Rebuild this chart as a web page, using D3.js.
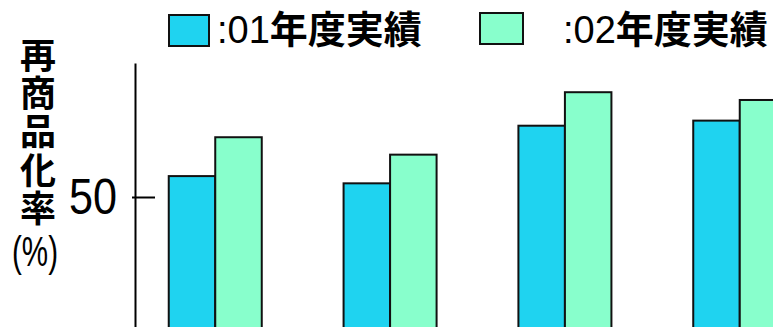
<!DOCTYPE html>
<html>
<head>
<meta charset="utf-8">
<script src="https://cdn.jsdelivr.net/npm/d3@7"></script>
<style>
  body { margin: 0; background: #fff; }
  svg { display: block; }
</style>
</head>
<body>
<div id="chart"></div>
<script>
const WIDTH = 773;
const HEIGHT = 327;

// data (category labels are cropped out of the frame)
const categories = ["区分1", "区分2", "区分3", "区分4"];
const seriesNames = ["01年度実績", "02年度実績"];
const values01 = [57.8, 55.1, 76.6, 78.5];
const values02 = [72.3, 65.8, 89.1, 86.2];
const yTicks = [50];
const yTitle = ["再", "商", "品", "化", "率"];
const yUnit = "(%)";

const COLORS = ["#1fd3f0", "#88ffcc"];

const svg = d3.select("#chart")
  .append("svg")
    .attr("width", WIDTH)
    .attr("height", HEIGHT);

// x scales: groups, then series inside each group
const X_SCALE = d3.scaleBand()
  .domain(categories)
  .range([135, 820])
  .paddingInner(0.468)
  .paddingOuter(0.193);

const X_INNER = d3.scaleBand()
  .domain(seriesNames)
  .range([0, X_SCALE.bandwidth()]);

// y scale: the zero line sits just below the frame
const Y_SCALE = d3.scaleLinear()
  .domain([0, 100])
  .range([331, 63]);

const rows = categories.map((c, i) => ({
  cat: c,
  vals: [values01[i], values02[i]]
}));

const groups = svg.selectAll("g.group")
  .data(rows)
  .enter()
  .append("g")
    .attr("class", "group")
    .attr("transform", (d) => "translate(" + X_SCALE(d.cat) + ",0)");

groups.selectAll("rect")
  .data((d) => d.vals.map((v, j) => ({name: seriesNames[j], v: v, j: j})))
  .enter()
  .append("rect")
    .attr("x", (d) => X_INNER(d.name))
    .attr("y", (d) => Y_SCALE(d.v))
    .attr("width", X_INNER.bandwidth())
    .attr("height", (d) => Y_SCALE(0) - Y_SCALE(d.v))
    .attr("fill", (d) => COLORS[d.j])
    .attr("stroke", "#111")
    .attr("stroke-width", 2);

// y axis, tick crosses the line
const yAxis = svg.append("g")
  .attr("transform", "translate(135,0)")
  .call(d3.axisLeft(Y_SCALE).tickValues(yTicks).tickSize(3).tickPadding(15).tickSizeOuter(0));

yAxis.select(".domain").attr("stroke", "#000").attr("stroke-width", 2);
yAxis.selectAll(".tick line").attr("x1", 20).attr("stroke", "#000").attr("stroke-width", 2);
yAxis.selectAll(".tick text")
  .attr("font-family", "'Liberation Sans', Arial, sans-serif")
  .attr("font-size", 50)
  .attr("textLength", 48)
  .attr("lengthAdjust", "spacingAndGlyphs")
  .attr("fill", "#000");

// y title, stacked vertically
const title = svg.append("g")
  .attr("font-family", "'Noto Sans CJK JP', sans-serif")
  .attr("font-weight", "bold")
  .attr("font-size", 36)
  .attr("text-anchor", "middle")
  .attr("fill", "#000");

title.selectAll("text")
  .data(yTitle)
  .enter()
  .append("text")
    .attr("x", 38)
    .attr("y", (d, i) => 69 + i * 38.2)
    .text((d) => d);

svg.append("text")
  .attr("x", 35)
  .attr("y", 266)
  .attr("font-family", "'Liberation Sans', Arial, sans-serif")
  .attr("font-size", 42)
  .attr("text-anchor", "middle")
  .attr("textLength", 46)
  .attr("lengthAdjust", "spacingAndGlyphs")
  .text(yUnit);

// legend
const legendX = [169, 480];
const legendTextX = [217, 563];

const legend = svg.selectAll("g.legend")
  .data(seriesNames)
  .enter()
  .append("g")
    .attr("class", "legend");

legend.append("rect")
  .attr("x", (d, i) => legendX[i])
  .attr("y", (d, i) => i === 0 ? 15 : 13)
  .attr("width", (d, i) => i === 0 ? 40 : 43)
  .attr("height", 31)
  .attr("fill", (d, i) => COLORS[i])
  .attr("stroke", "#111")
  .attr("stroke-width", 2);

const lt = legend.append("text")
  .attr("x", (d, i) => legendTextX[i])
  .attr("y", 43)
  .attr("font-size", 38)
  .attr("fill", "#000");

lt.append("tspan")
  .attr("font-family", "'Liberation Sans', Arial, sans-serif")
  .text((d) => ":" + d.slice(0, 2));

lt.append("tspan")
  .attr("font-family", "'Noto Sans CJK JP', sans-serif")
  .attr("font-weight", "bold")
  .text((d) => d.slice(2));
</script>
</body>
</html>
